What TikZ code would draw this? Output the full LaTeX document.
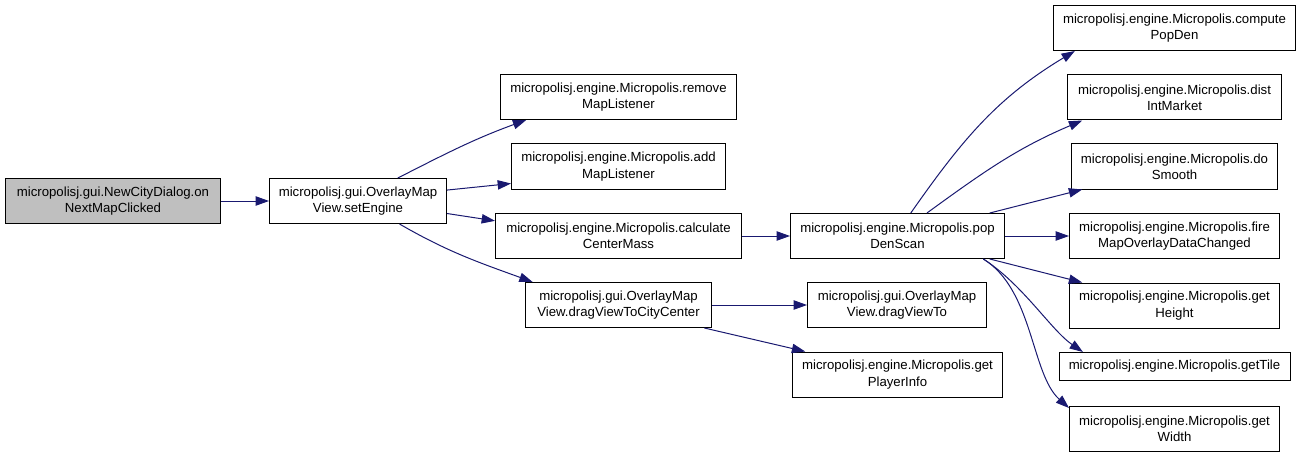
\documentclass[tikz,border=0pt]{standalone}
\usepackage{fontspec}
\setmainfont{Liberation Sans}
\usetikzlibrary{arrows.meta}
\definecolor{edgeblue}{HTML}{191970}
\definecolor{rootgray}{HTML}{BFBFBF}

\begin{document}
\begin{tikzpicture}[x=0.75pt,y=0.75pt,font=\fontsize{9.9}{12.2}\selectfont,
   fn/.style={draw=black,line width=0.75pt,fill=white,align=center,inner sep=1pt,
              minimum width=#1,minimum height=33.75pt},
   call/.style={-{Triangle[length=10pt,width=7pt]},draw=edgeblue,line width=0.75pt}]
  \useasboundingbox (0,0) rectangle (1301,-456);
  \node[fn=161.25pt,fill=rootgray] (root) at (113,-201) {micropolisj.gui.NewCityDialog.on\\NextMapClicked};
  \node[fn=132.75pt] (setengine)   at (358,-201)   {micropolisj.gui.OverlayMap\\View.setEngine};
  \node[fn=177pt]    (rmlistener)  at (618.5,-97)  {micropolisj.engine.Micropolis.remove\\MapListener};
  \node[fn=160.5pt]  (addlistener) at (618.5,-166.5) {micropolisj.engine.Micropolis.add\\MapListener};
  \node[fn=184.5pt]  (centermass)  at (618.5,-236) {micropolisj.engine.Micropolis.calculate\\CenterMass};
  \node[fn=139.5pt]  (dragcenter)  at (618.5,-305) {micropolisj.gui.OverlayMap\\View.dragViewToCityCenter};
  \node[fn=160.5pt]  (popdenscan)  at (897.5,-236) {micropolisj.engine.Micropolis.pop\\DenScan};
  \node[fn=134.25pt] (dragto)      at (897,-305)   {micropolisj.gui.OverlayMap\\View.dragViewTo};
  \node[fn=157.5pt]  (playerinfo)  at (897.5,-374.5) {micropolisj.engine.Micropolis.get\\PlayerInfo};
  \node[fn=181.5pt]  (computepopden) at (1174.5,-28)  {micropolisj.engine.Micropolis.compute\\PopDen};
  \node[fn=160.5pt]  (distmarket)  at (1174.5,-97.5)  {micropolisj.engine.Micropolis.dist\\IntMarket};
  \node[fn=154.5pt]  (dosmooth)    at (1174.5,-166.5) {micropolisj.engine.Micropolis.do\\Smooth};
  \node[fn=157.5pt]  (firechanged) at (1174.5,-236)   {micropolisj.engine.Micropolis.fire\\MapOverlayDataChanged};
  \node[fn=157.5pt]  (getheight)   at (1174.5,-305.5) {micropolisj.engine.Micropolis.get\\Height};
  \node[fn=173.25pt,minimum height=21pt] (gettile) at (1174.5,-366.5) {micropolisj.engine.Micropolis.getTile};
  \node[fn=157.5pt]  (getwidth)    at (1174.5,-428.5) {micropolisj.engine.Micropolis.get\\Width};

  \draw[call] (root) -- (setengine);
  \draw[call] (setengine.30) to[out=27,in=200] (rmlistener.194);
  \draw[call] (setengine.7) -- (addlistener.189);
  \draw[call] (setengine.-8) -- (centermass.173);
  \draw[call] (setengine.-29) to[out=-30,in=160] (dragcenter.165);
  \draw[call] (centermass) -- (popdenscan);
  \draw[call] (dragcenter) -- (dragto);
  \draw[call] (dragcenter.-15) -- (playerinfo.166);
  \draw[call] (popdenscan.60) to[out=55,in=211] (computepopden.193);
  \draw[call] (popdenscan.38) to[out=36,in=203] (distmarket.194);
  \draw[call] (popdenscan.14) -- (dosmooth.194);
  \draw[call] (popdenscan) -- (firechanged);
  \draw[call] (popdenscan.-14) -- (getheight.166);
  \draw[call] (popdenscan.-15) .. controls +(40,-26) and +(-32,22) .. (gettile.171);
  \draw[call] (popdenscan.-15) .. controls +(50,-31) and +(-38,34) .. (getwidth.169);
\end{tikzpicture}
\end{document}
